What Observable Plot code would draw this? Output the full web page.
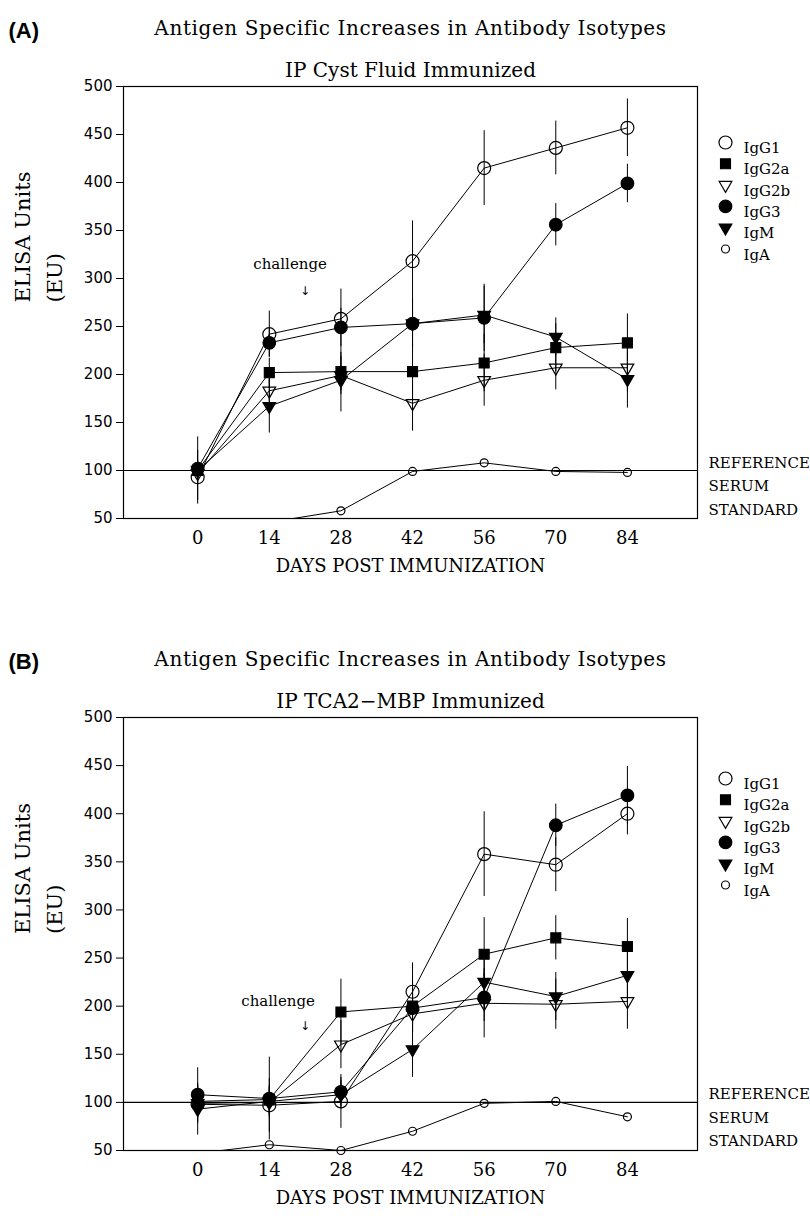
<!DOCTYPE html>
<html><head><meta charset="utf-8">
<script src="https://cdn.jsdelivr.net/npm/d3@7"></script>
<script src="https://cdn.jsdelivr.net/npm/@observablehq/plot@0.6"></script>
<style>
body{margin:0;background:#fff;width:810px;}
svg{display:block;}
</style>
</head><body><div id="chart"></div>
<script>
// ---- data ----
const days = [0, 14, 28, 42, 56, 70, 84];
const series = ["IgG1", "IgG2a", "IgG2b", "IgG3", "IgM", "IgA"];
const yTicks = [50, 100, 150, 200, 250, 300, 350, 400, 450, 500];
const refLevel = 100;
const challengeDay = 21;

// Panel A: IP Cyst Fluid Immunized
const a_IgG1 = [93, 242, 258, 318, 415, 436, 457];
const a_IgG2a = [100, 202, 203, 203, 212, 228, 233];
const a_IgG2b = [97, 183, 199, 170, 194, 207, 207];
const a_IgG3 = [102, 233, 249, 253, 259, 356, 399];
const a_IgM = [100, 167, 194, 253, 262, 239, 195];
const a_IgA = [45, 46, 58, 99, 108, 99, 98];
const a_IgG1_err = [28, 24, 31, 42, 39, 28, 30];
const a_IgG2a_err = [10, 15, 20, 30, 30, 25, 30];
const a_IgG2b_err = [10, 15, 20, 29, 27, 23, 25];
const a_IgG3_err = [33, 15, 20, 25, 35, 22, 20];
const a_IgM_err = [10, 28, 33, 25, 30, 20, 30];
const a_IgA_err = [0, 0, 0, 0, 0, 0, 0];

// Panel B: IP TCA2-MBP Immunized
const b_IgG1 = [98, 97, 101, 215, 358, 347, 400];
const b_IgG2a = [101, 103, 194, 200, 254, 271, 262];
const b_IgG2b = [99, 100, 160, 192, 203, 202, 205];
const b_IgG3 = [108, 104, 111, 198, 209, 388, 419];
const b_IgM = [93, 101, 108, 155, 225, 210, 232];
const b_IgA = [47, 56, 50, 70, 99, 101, 85];
const b_IgG1_err = [20, 28, 28, 30, 44, 28, 22];
const b_IgG2a_err = [15, 15, 34, 25, 38, 23, 29];
const b_IgG2b_err = [15, 15, 25, 20, 36, 26, 29];
const b_IgG3_err = [28, 43, 15, 25, 25, 22, 30];
const b_IgM_err = [27, 15, 15, 29, 30, 25, 30];
const b_IgA_err = [0, 0, 0, 0, 0, 0, 0];

// ---- styles ----
const serif = "DejaVu Serif";
const sans = "DejaVu Sans";
const triangleDown = {
  draw(ctx, size) {
    const s = Math.sqrt(size * 4 / Math.sqrt(3));
    const h = s * Math.sqrt(3) / 2;
    ctx.moveTo(0, 2 * h / 3);
    ctx.lineTo(s / 2, -h / 3);
    ctx.lineTo(-s / 2, -h / 3);
    ctx.closePath();
  }
};
const style = {
  IgG1: {symbol: "circle", r: 6.5, fill: "none"},
  IgG2a: {symbol: "square", r: 5.6, fill: "black"},
  IgG2b: {symbol: triangleDown, r: 4.7, fill: "none"},
  IgG3: {symbol: "circle", r: 6.3, fill: "black"},
  IgM: {symbol: triangleDown, r: 4.7, fill: "black"},
  IgA: {symbol: "circle", r: 4, fill: "none"}
};

const panels = [
  {
    tag: "(A)", title: "Antigen Specific Increases in Antibody Isotypes",
    subtitle: "IP Cyst Fluid Immunized",
    values: {IgG1: a_IgG1, IgG2a: a_IgG2a, IgG2b: a_IgG2b, IgG3: a_IgG3, IgM: a_IgM, IgA: a_IgA},
    errors: {IgG1: a_IgG1_err, IgG2a: a_IgG2a_err, IgG2b: a_IgG2b_err, IgG3: a_IgG3_err, IgM: a_IgM_err, IgA: a_IgA_err},
    height: 631, marginBottom: 113, legendTop: 56,
    challengeY: 315, arrowY: 287, challengeDx: -15
  },
  {
    tag: "(B)", title: "Antigen Specific Increases in Antibody Isotypes",
    subtitle: "IP TCA2\u2212MBP Immunized",
    values: {IgG1: b_IgG1, IgG2a: b_IgG2a, IgG2b: b_IgG2b, IgG3: b_IgG3, IgM: b_IgM, IgA: b_IgA},
    errors: {IgG1: b_IgG1_err, IgG2a: b_IgG2a_err, IgG2b: b_IgG2b_err, IgG3: b_IgG3_err, IgM: b_IgM_err, IgA: b_IgA_err},
    height: 587, marginBottom: 68, legendTop: 61,
    challengeY: 205, arrowY: 179, challengeDx: -27
  }
];

const root = document.getElementById("chart");

for (const cfg of panels) {
  const rows = [];
  for (const s of series) {
    cfg.values[s].forEach((v, i) => rows.push({series: s, day: days[i], value: v, err: cfg.errors[s][i]}));
  }
  const marks = [
    Plot.ruleY([refLevel], {stroke: "black", strokeWidth: 1.1}),
    Plot.ruleX(rows.filter(d => d.err > 0), {x: "day", y1: d => d.value - d.err, y2: d => d.value + d.err, stroke: "black", strokeWidth: 1, clip: true}),
    Plot.line(rows, {x: "day", y: "value", z: "series", stroke: "black", strokeWidth: 1, clip: true}),
    ...series.map(s => Plot.dot(rows.filter(d => d.series === s && d.value >= 48), {
      x: "day", y: "value", symbol: style[s].symbol, r: style[s].r,
      fill: style[s].fill, stroke: "black", strokeWidth: 1.2
    })),
    Plot.frame({stroke: "black", strokeWidth: 1.2}),
    Plot.axisY(yTicks, {tickSize: 7, tickPadding: 4, fontSize: 15, fontFamily: sans, label: null}),
    Plot.axisX(days, {tickSize: 0, tickPadding: 13, fontSize: 18, fontFamily: serif, label: null}),
    // titles
    Plot.text([cfg.tag], {frameAnchor: "top-left", dx: -115, dy: -64, textAnchor: "start", fontSize: 22, fontFamily: "Liberation Sans", fontWeight: "bold"}),
    Plot.text([cfg.title], {frameAnchor: "top", dy: -66, fontSize: 20, fontFamily: serif}),
    Plot.text([cfg.subtitle], {frameAnchor: "top", dy: -24, fontSize: 20, fontFamily: serif}),
    // axis labels
    Plot.text(["ELISA Units"], {frameAnchor: "left", dx: -100, rotate: -90, fontSize: 21, fontFamily: serif}),
    Plot.text(["(EU)"], {frameAnchor: "left", dx: -68, rotate: -90, fontSize: 21, fontFamily: serif}),
    Plot.text(["DAYS POST IMMUNIZATION"], {frameAnchor: "bottom", dy: 53, fontSize: 18, fontFamily: serif}),
    // reference label
    Plot.text(["REFERENCE\nSERUM\nSTANDARD"], {y: () => refLevel, frameAnchor: "right", dx: 11, dy: 13, textAnchor: "start", lineAnchor: "middle", lineHeight: 1.57, fontSize: 15, fontFamily: serif}),
    // challenge annotation
    Plot.text(["challenge"], {x: () => challengeDay, y: () => cfg.challengeY, dx: cfg.challengeDx, fontSize: 15, fontFamily: serif}),
    Plot.text(["\u2193"], {x: () => challengeDay, y: () => cfg.arrowY, fontSize: 12, fontFamily: sans}),
    // legend
    ...series.flatMap((s, i) => [
      Plot.dot([s], {frameAnchor: "top-right", dx: 28, dy: cfg.legendTop + 21.3 * i, symbol: style[s].symbol, r: style[s].r, fill: style[s].fill, stroke: "black", strokeWidth: 1.2}),
      Plot.text([s], {frameAnchor: "top-right", dx: 46, dy: cfg.legendTop + 21.3 * i, textAnchor: "start", fontSize: 15, fontFamily: serif})
    ])
  ];
  const svg = Plot.plot({
    width: 810,
    height: cfg.height,
    marginTop: 86,
    marginBottom: cfg.marginBottom,
    marginLeft: 123,
    marginRight: 113,
    x: {domain: [-14.5, 97.7]},
    y: {domain: [50, 500]},
    style: {background: "white", color: "black", overflow: "visible"},
    marks
  });
  d3.select(svg).selectAll("text")
    .filter(function () { return this.textContent === cfg.title; })
    .attr("letter-spacing", "0.6px");
  root.appendChild(svg);
}
</script>
</body></html>
